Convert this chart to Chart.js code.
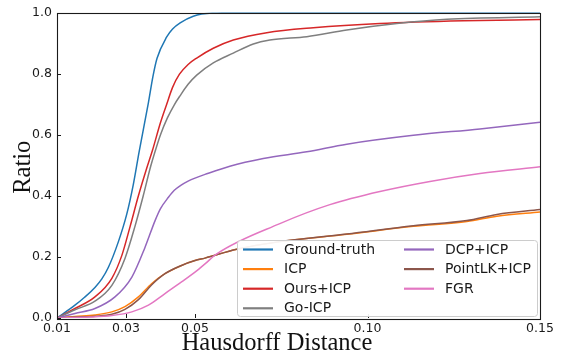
<!DOCTYPE html>
<html>
<head>
<meta charset="utf-8">
<script src="https://cdn.jsdelivr.net/npm/chart.js@4.4.1/dist/chart.umd.min.js"></script>
<style>
  html, body { margin: 0; padding: 0; background: #fff; }
  #wrap { width: 562px; height: 354px; position: relative; }
</style>
</head>
<body>
<div id="wrap"><canvas id="c"></canvas></div>
<script>
// ---- data ----
const xTickValues = [0.01, 0.03, 0.05, 0.10, 0.15];
const xTickLabels = ["0.01", "0.03", "0.05", "0.10", "0.15"];
const yTickValues = [0.0, 0.2, 0.4, 0.6, 0.8, 1.0];

const seriesNames = ["Ground-truth", "ICP", "Ours+ICP", "Go-ICP", "DCP+ICP", "PointLK+ICP", "FGR"];
const seriesColors = ["#1f77b4", "#ff7f0e", "#d62728", "#7f7f7f", "#9467bd", "#8c564b", "#e377c2"];

const gtX = [0.010, 0.0152, 0.018, 0.021, 0.023, 0.0249, 0.0278, 0.0302, 0.0321, 0.0338, 0.0365, 0.0378, 0.039, 0.0418, 0.0435, 0.0457, 0.0495, 0.055, 0.065, 0.15];
const gtY = [0, 0.042, 0.068, 0.100, 0.128, 0.166, 0.250, 0.339, 0.436, 0.544, 0.705, 0.790, 0.850, 0.920, 0.946, 0.966, 0.988, 0.998, 1.0, 1.0];

const icpX = [0.010, 0.0152, 0.021, 0.0259, 0.0297, 0.0336, 0.0374, 0.0413, 0.0461, 0.050, 0.0529, 0.0621, 0.0746, 0.094, 0.1133, 0.1288, 0.1375, 0.15];
const icpY = [0, 0.005, 0.010, 0.020, 0.037, 0.069, 0.112, 0.145, 0.172, 0.188, 0.196, 0.225, 0.250, 0.274, 0.300, 0.316, 0.333, 0.347];

const oursX = [0.010, 0.0152, 0.021, 0.0259, 0.0288, 0.0312, 0.0336, 0.036, 0.0377, 0.040, 0.0418, 0.0435, 0.0455, 0.048, 0.0505, 0.0553, 0.0611, 0.0708, 0.0843, 0.1036, 0.1278, 0.15];
const oursY = [0, 0.031, 0.069, 0.130, 0.205, 0.300, 0.400, 0.490, 0.550, 0.640, 0.700, 0.755, 0.798, 0.830, 0.851, 0.883, 0.910, 0.934, 0.950, 0.964, 0.973, 0.977];

const goX = [0.010, 0.0152, 0.021, 0.0259, 0.0297, 0.0326, 0.035, 0.037, 0.0384, 0.040, 0.042, 0.044, 0.0457, 0.048, 0.0505, 0.0553, 0.0611, 0.0669, 0.0717, 0.0824, 0.094, 0.1085, 0.123, 0.15];
const goY = [0, 0.027, 0.055, 0.107, 0.195, 0.300, 0.400, 0.490, 0.544, 0.600, 0.655, 0.698, 0.728, 0.765, 0.795, 0.835, 0.867, 0.897, 0.910, 0.921, 0.943, 0.964, 0.978, 0.986];

const dcpX = [0.010, 0.0152, 0.021, 0.0268, 0.0317, 0.0355, 0.0384, 0.040, 0.0423, 0.044, 0.0461, 0.048, 0.050, 0.0529, 0.0601, 0.0698, 0.0824, 0.094, 0.1133, 0.1326, 0.15];
const dcpY = [0, 0.015, 0.031, 0.069, 0.134, 0.231, 0.318, 0.358, 0.395, 0.418, 0.436, 0.448, 0.458, 0.470, 0.497, 0.522, 0.544, 0.569, 0.598, 0.619, 0.641];

const plkX = [0.010, 0.0152, 0.021, 0.0259, 0.0297, 0.0336, 0.0374, 0.0413, 0.0461, 0.050, 0.0529, 0.0621, 0.0746, 0.094, 0.1133, 0.1288, 0.1375, 0.15];
const plkY = [0, 0.003, 0.006, 0.012, 0.028, 0.060, 0.108, 0.145, 0.172, 0.188, 0.196, 0.225, 0.250, 0.275, 0.302, 0.319, 0.339, 0.355];

const fgrX = [0.010, 0.0194, 0.0259, 0.0317, 0.0365, 0.0413, 0.0461, 0.050, 0.0529, 0.0563, 0.0746, 0.0891, 0.1036, 0.1181, 0.1326, 0.15];
const fgrY = [0, 0.003, 0.008, 0.020, 0.042, 0.080, 0.118, 0.150, 0.177, 0.210, 0.309, 0.371, 0.414, 0.447, 0.473, 0.495];

const seriesXs = [gtX, icpX, oursX, goX, dcpX, plkX, fgrX];
const seriesYs = [gtY, icpY, oursY, goY, dcpY, plkY, fgrY];

const xTitle = "Hausdorff Distance";
const yTitle = "Ratio";

// ---- build chart ----
const datasets = seriesNames.map((name, i) => ({
  label: name,
  data: seriesXs[i].map((x, k) => ({ x: x, y: seriesYs[i][k] })),
  borderColor: seriesColors[i],
  backgroundColor: seriesColors[i],
  borderWidth: 1.5,
  pointRadius: 0,
  fill: false,
  cubicInterpolationMode: 'monotone',
  order: seriesNames.length - i
}));

const TICK_FONT = { family: "DejaVu Sans", size: 12.5 };

const framePlugin = {
  id: 'frame',
  afterDatasetsDraw(chart) {
    const ctx = chart.ctx, a = chart.chartArea;
    const xs = chart.scales.x, ys = chart.scales.y;
    ctx.save();
    ctx.strokeStyle = '#1a1a1a';
    ctx.lineWidth = 1.1;
    ctx.strokeRect(Math.round(a.left) + 0.5, Math.round(a.top) + 0.5,
                   Math.round(a.right - a.left), Math.round(a.bottom - a.top));
    // inward ticks
    ctx.lineWidth = 1;
    ctx.beginPath();
    xTickValues.forEach(v => {
      const px = Math.round(xs.getPixelForValue(v)) + 0.5;
      ctx.moveTo(px, a.bottom); ctx.lineTo(px, a.bottom - 4);
    });
    yTickValues.forEach(v => {
      const py = Math.round(ys.getPixelForValue(v)) + 0.5;
      ctx.moveTo(a.left, py); ctx.lineTo(a.left + 4, py);
    });
    ctx.stroke();
    ctx.restore();
  },
  afterDraw(chart) {
    const ctx = chart.ctx, a = chart.chartArea;
    ctx.save();
    // legend
    const lx = 237, ly = 240, lw = 300, lh = 76;
    ctx.fillStyle = 'rgba(255,255,255,0.92)';
    ctx.strokeStyle = '#cccccc';
    ctx.lineWidth = 1;
    ctx.beginPath();
    if (ctx.roundRect) ctx.roundRect(lx + 0.5, ly + 0.5, lw, lh, 3); else ctx.rect(lx + 0.5, ly + 0.5, lw, lh);
    ctx.fill(); ctx.stroke();
    ctx.font = "14px 'DejaVu Sans'";
    ctx.textBaseline = 'middle';
    ctx.textAlign = 'left';
    const colX = [243, 404];
    const rowY0 = 249.5, rowDy = 19.6;
    chart.data.datasets.forEach((ds, i) => {
      const col = i < 4 ? 0 : 1;
      const row = i < 4 ? i : i - 4;
      const x0 = colX[col], y0 = rowY0 + row * rowDy;
      ctx.strokeStyle = ds.borderColor;
      ctx.lineWidth = 2.2;
      ctx.beginPath(); ctx.moveTo(x0, y0); ctx.lineTo(x0 + 30, y0); ctx.stroke();
      ctx.fillStyle = '#1a1a1a';
      ctx.fillText(ds.label, x0 + 41, y0 + 0.5);
    });
    // axis titles
    ctx.fillStyle = '#111';
    ctx.font = "24.5px 'Liberation Serif'";
    ctx.textAlign = 'center';
    ctx.textBaseline = 'alphabetic';
    ctx.fillText(xTitle, 277, 350);
    ctx.save();
    ctx.translate(30, (a.top + a.bottom) / 2 + 2);
    ctx.rotate(-Math.PI / 2);
    ctx.fillText(yTitle, 0, 0);
    ctx.restore();
    ctx.restore();
  }
};

new Chart(document.getElementById('c'), {
  type: 'line',
  data: { datasets: datasets },
  plugins: [framePlugin],
  options: {
    responsive: true,
    maintainAspectRatio: false,
    animation: false,
    layout: { padding: { left: 0, top: 9, right: 22, bottom: 0 } },
    plugins: { legend: { display: false }, tooltip: { enabled: false }, title: { display: false } },
    scales: {
      x: {
        type: 'linear',
        min: 0.01, max: 0.15,
        grid: { display: false, drawTicks: false },
        border: { display: false },
        afterBuildTicks: s => { s.ticks = xTickValues.map(v => ({ value: v })); },
        afterFit: s => { s.height = 36; },
        ticks: {
          font: TICK_FONT, color: '#1a1a1a', padding: 3, maxRotation: 0, autoSkip: false,
          callback: (v, idx) => xTickLabels[idx]
        }
      },
      y: {
        type: 'linear',
        min: 0, max: 1,
        grid: { display: false, drawTicks: false },
        border: { display: false },
        afterBuildTicks: s => { s.ticks = yTickValues.map(v => ({ value: v })); },
        afterFit: s => { s.width = 57; },
        ticks: {
          font: TICK_FONT, color: '#1a1a1a', padding: 5, autoSkip: false,
          callback: v => Number(v).toFixed(1)
        }
      }
    }
  }
});
</script>
</body>
</html>
